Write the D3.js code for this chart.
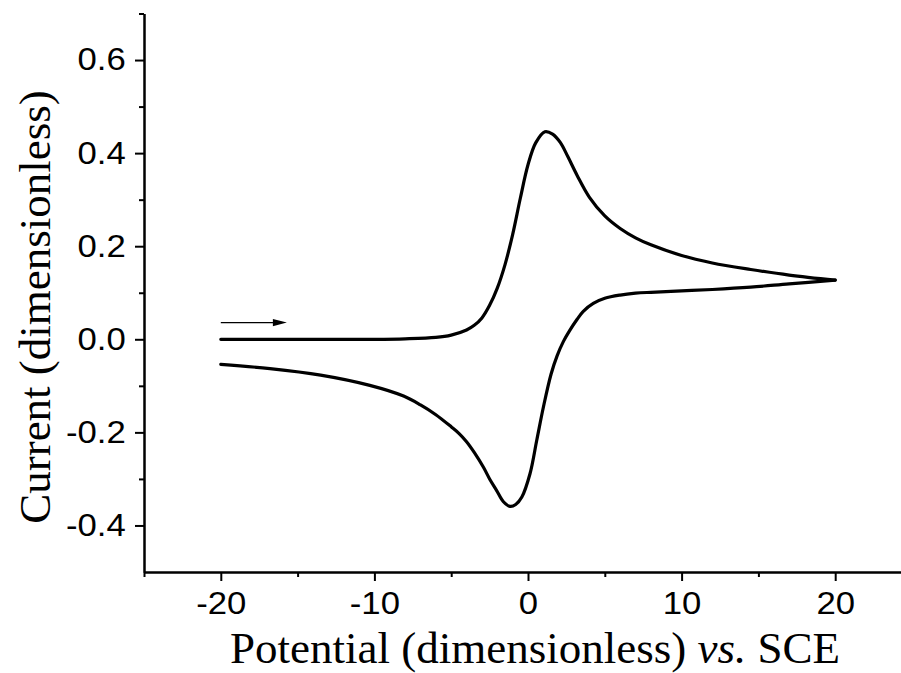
<!DOCTYPE html>
<html>
<head>
<meta charset="utf-8">
<script src="https://cdn.jsdelivr.net/npm/d3@7"></script>
<style>
  html, body { margin: 0; padding: 0; background: #fff; }
  svg { display: block; }
</style>
</head>
<body>
<svg id="chart" width="901" height="673"></svg>
<script>
// Cyclic voltammogram: forward (anodic) sweep and reverse (cathodic) sweep
const forwardPotential = [-20, -15, -10, -8, -6, -5, -4, -3.5, -3, -2.5, -2, -1.5, -1, -0.5, 0, 0.5, 1.1, 1.6, 2.1, 2.6, 3.2, 4, 5, 6, 7, 8, 10, 12, 14.5, 17, 20];
const forwardCurrent   = [0, 0, 0, 0.001, 0.004, 0.009, 0.02, 0.03, 0.046, 0.073, 0.11, 0.16, 0.225, 0.303, 0.375, 0.422, 0.446, 0.441, 0.423, 0.392, 0.352, 0.305, 0.265, 0.238, 0.218, 0.203, 0.180, 0.164, 0.150, 0.138, 0.127];

const reversePotential = [-20, -16.8, -13.5, -10.3, -8.1, -7, -6, -5, -4.5, -4, -3.5, -2.9, -2.5, -2.04, -1.6, -1.17, -0.8, -0.4, 0.13, 0.57, 1.0, 1.5, 1.9, 2.3, 2.7, 3.2, 3.6, 4.25, 5, 6, 7, 8, 10, 12, 14.5, 17, 20];
const reverseCurrent   = [-0.054, -0.063, -0.077, -0.099, -0.122, -0.141, -0.162, -0.188, -0.202, -0.220, -0.243, -0.275, -0.300, -0.325, -0.349, -0.359, -0.355, -0.339, -0.289, -0.217, -0.146, -0.075, -0.035, -0.005, 0.018, 0.043, 0.060, 0.077, 0.088, 0.095, 0.099, 0.101, 0.104, 0.107, 0.112, 0.119, 0.127];

// Sweep-direction arrow (start and end potential, current level)
const arrowPotential = [-20, -15.7];
const arrowCurrent = 0.036;

const xMajorTicks = [-20, -10, 0, 10, 20];
const xMinorTicks = [-25, -15, -5, 5, 15, 25];
const yMajorTicks = [-0.4, -0.2, 0.0, 0.2, 0.4, 0.6];
const yMinorTicks = [-0.3, -0.1, 0.1, 0.3, 0.5, 0.7];

const svg = d3.select("#chart");

const x = d3.scaleLinear().domain([-25, 25]).range([144, 912]);
const y = d3.scaleLinear().domain([-0.5, 0.7]).range([572, 13.5]);

const labelFont = "'Liberation Sans', Arial, sans-serif";
const titleFont = "'Liberation Serif', 'Times New Roman', serif";
const stretch = 1.12;

const fmtX = d => String(d);
const fmtY = d => (d < 0 ? "-" : "") + Math.abs(d).toFixed(1);

// Bottom axis
const gx = svg.append("g").attr("transform", `translate(0,${y(-0.5)})`);
gx.call(d3.axisBottom(x).tickValues(xMinorTicks).tickSize(5).tickSizeOuter(0).tickFormat(""));
gx.call(g => g.append("g").call(d3.axisBottom(x).tickValues(xMajorTicks).tickSize(9).tickSizeOuter(0).tickFormat(fmtX)));
gx.selectAll("path.domain").attr("stroke", "#000").attr("stroke-width", 2);
gx.selectAll(".tick line").attr("stroke", "#000").attr("stroke-width", 2);
gx.selectAll(".tick text")
  .attr("y", 42.5).attr("dy", 0)
  .attr("transform", `scale(${stretch},1)`)
  .attr("fill", "#000")
  .style("font-family", labelFont).style("font-size", "31px");

// Left axis
const gy = svg.append("g").attr("transform", `translate(${x(-25)},0)`);
gy.call(d3.axisLeft(y).tickValues(yMinorTicks).tickSize(5).tickSizeOuter(0).tickFormat(""));
gy.call(g => g.append("g").call(d3.axisLeft(y).tickValues(yMajorTicks).tickSize(9).tickSizeOuter(0).tickFormat(fmtY)));
gy.selectAll("path.domain").attr("stroke", "#000").attr("stroke-width", 2);
gy.selectAll(".tick line").attr("stroke", "#000").attr("stroke-width", 2);
gy.selectAll(".tick text")
  .attr("x", -18.3 / stretch)
  .attr("transform", `scale(${stretch},1)`)
  .attr("fill", "#000")
  .style("font-family", labelFont).style("font-size", "31px");

// Curves
const line = d3.line()
  .x(d => x(d[0]))
  .y(d => y(d[1]))
  .curve(d3.curveCatmullRom.alpha(0.5));

const forward = d3.zip(forwardPotential, forwardCurrent);
const reverse = d3.zip(reversePotential, reverseCurrent);

svg.selectAll("path.sweep")
  .data([forward, reverse])
  .join("path")
  .attr("class", "sweep")
  .attr("d", line)
  .attr("fill", "none")
  .attr("stroke", "#000")
  .attr("stroke-width", 3.2)
  .attr("stroke-linecap", "round")
  .attr("stroke-linejoin", "round");

// Arrow showing scan direction
const ax0 = x(arrowPotential[0]), ax1 = x(arrowPotential[1]), ay = y(arrowCurrent);
svg.append("line")
  .attr("x1", ax0).attr("x2", ax1 - 10)
  .attr("y1", ay).attr("y2", ay)
  .attr("stroke", "#000").attr("stroke-width", 1.3);
svg.append("path")
  .attr("d", `M${ax1},${ay} L${ax1 - 14},${ay - 3.6} L${ax1 - 14},${ay + 3.6} Z`)
  .attr("fill", "#000");

// Axis titles
svg.append("text")
  .attr("x", 535).attr("y", 663)
  .attr("text-anchor", "middle")
  .style("font-family", titleFont).style("font-size", "45px")
  .call(t => {
    t.append("tspan").text("Potential (dimensionless) ");
    t.append("tspan").style("font-style", "italic").text("vs.");
    t.append("tspan").text(" SCE");
  });

svg.append("text")
  .attr("transform", "translate(50,307) rotate(-90)")
  .attr("text-anchor", "middle")
  .style("font-family", titleFont).style("font-size", "45px")
  .text("Current (dimensionless)");
</script>
</body>
</html>
